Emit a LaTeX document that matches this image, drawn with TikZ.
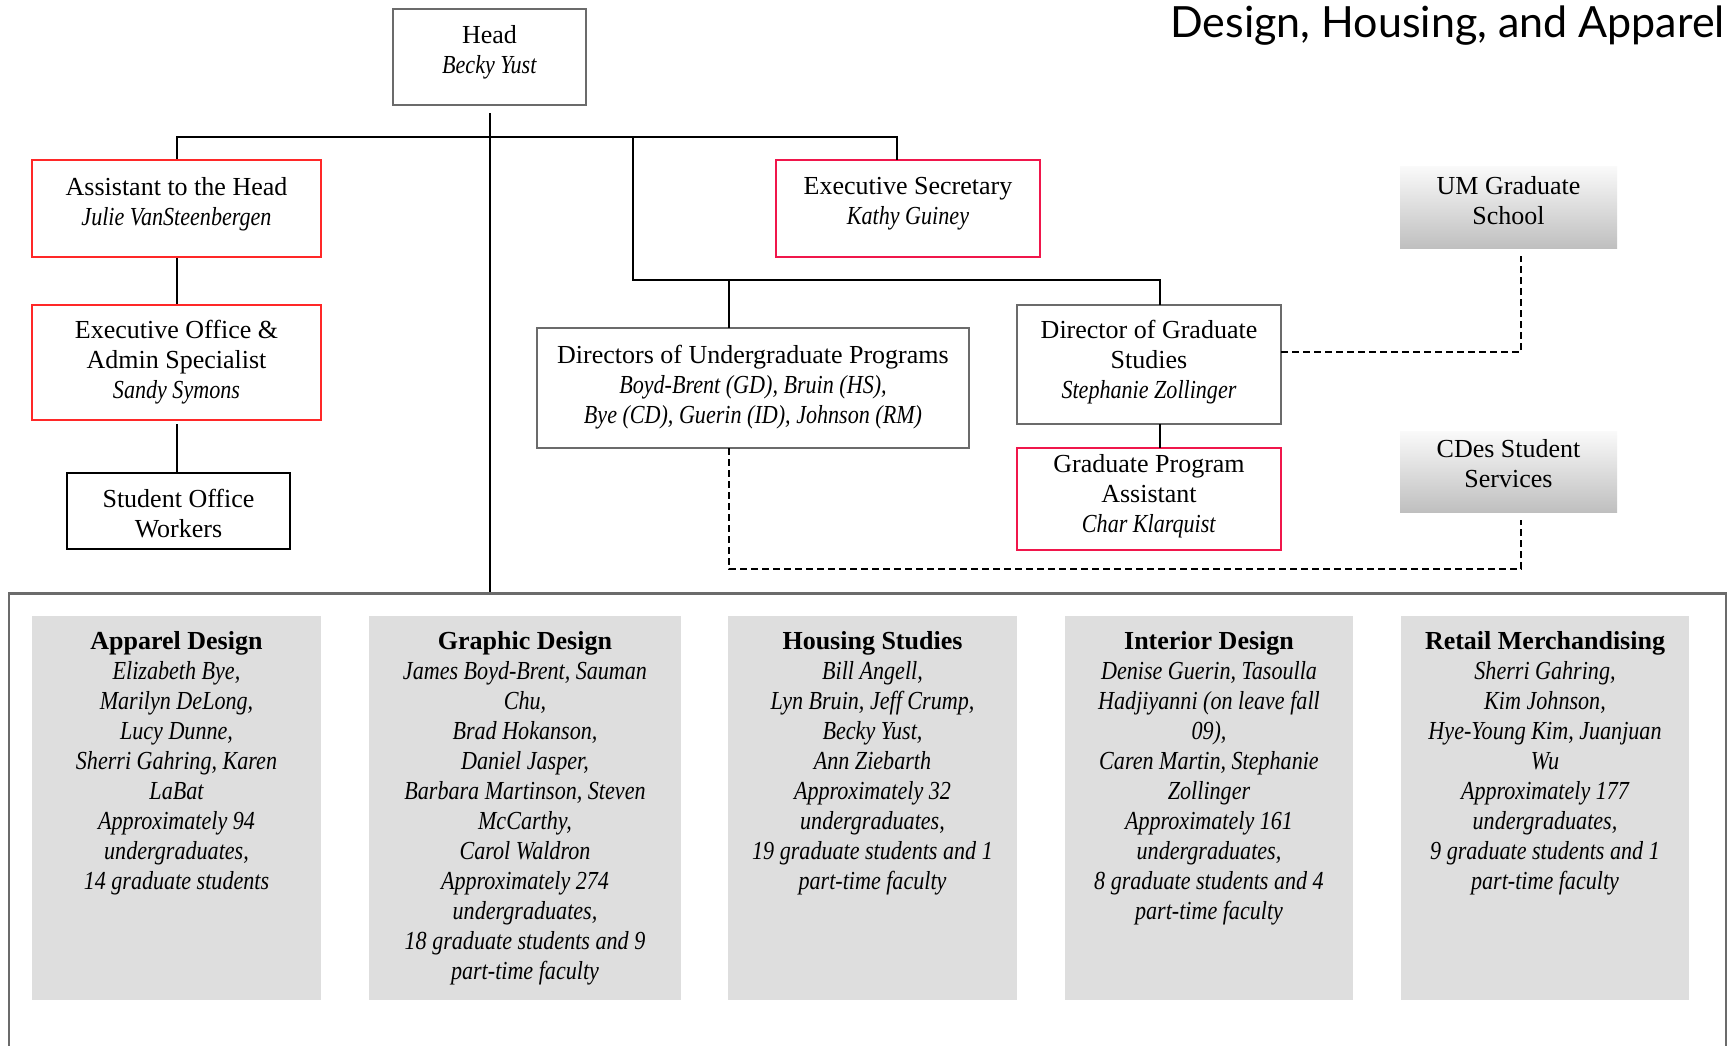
\documentclass[tikz,border=0pt]{standalone}
\usepackage{fontspec}
\setmainfont{Liberation Serif}[ItalicFeatures={FakeStretch=0.85}]
\newfontfamily\titlefont{Lato}
\newcommand\orgfont{\fontsize{26}{30}\selectfont}
\definecolor{redA}{RGB}{255,40,40}
\definecolor{redB}{RGB}{240,22,75}
\definecolor{boxgray}{RGB}{107,107,107}
\definecolor{deptfill}{RGB}{222,222,222}
\begin{document}
\begin{tikzpicture}[x=1pt,y=-1pt,
  box/.style={draw, line width=2.5pt, inner sep=0pt},
  graybox/.style={box, draw=boxgray},
  blackbox/.style={box, draw=black},
  redbox/.style={box, draw=redA},
  crimsonbox/.style={box, draw=redB},
  gradbox/.style={inner sep=0pt, top color=black!2, bottom color=black!25, draw=none},
  boxtext/.style={inner sep=0pt, align=center, font=\orgfont},
  deptbox/.style={fill=deptfill, draw=none, inner sep=0pt, minimum height=384pt},
  depttext/.style={anchor=north, inner sep=0pt, align=center, font=\orgfont},
  conn/.style={line width=2pt, black},
  dconn/.style={line width=2pt, black, dash pattern=on 7pt off 4pt}]
\useasboundingbox (0,0) rectangle (1731,1046);
\fill[white] (0,0) rectangle (1731,1046);

% title
\node[anchor=base east, inner sep=0pt, font=\titlefont\fontsize{43}{48}\selectfont] (title) at (1725,38) {Design, Housing, and Apparel};

% boxes
\node[graybox, minimum width=193pt, minimum height=96pt] (head) at (489.5,57) {};
\node[boxtext] (headt) at ([yshift=4.5pt]head.center) {Head\\\textit{Becky Yust}};
\node[redbox, minimum width=289pt, minimum height=97pt] (asst) at (176.5,208.5) {};
\node[boxtext] (asstt) at ([yshift=4.5pt]asst.center) {Assistant to the Head\\\textit{Julie VanSteenbergen}};
\node[redbox, minimum width=289pt, minimum height=115pt] (execoff) at (176.5,362.5) {};
\node[boxtext] (execofft) at (execoff.center) {Executive Office \&\\Admin Specialist\\\textit{Sandy Symons}};
\node[blackbox, minimum width=223pt, minimum height=76pt] (student) at (178.5,511) {};
\node[boxtext] (studentt) at ([yshift=-2.2pt]student.center) {Student Office\\Workers};
\node[crimsonbox, minimum width=264pt, minimum height=97pt] (execsec) at (908,208.5) {};
\node[boxtext] (execsect) at ([yshift=4.5pt]execsec.center) {Executive Secretary\\\textit{Kathy Guiney}};
\node[graybox, minimum width=432pt, minimum height=120pt] (ug) at (753,388) {};
\node[boxtext] (ugt) at ([yshift=1.1pt]ug.center) {Directors of Undergraduate Programs\\\textit{Boyd-Brent (GD), Bruin (HS),}\\\textit{Bye (CD), Guerin (ID), Johnson (RM)}};
\node[graybox, minimum width=264pt, minimum height=119pt] (dgs) at (1149,364.5) {};
\node[boxtext] (dgst) at ([yshift=2.2pt]dgs.center) {Director of Graduate\\Studies\\\textit{Stephanie Zollinger}};
\node[crimsonbox, minimum width=264pt, minimum height=102pt] (gpa) at (1149,499) {};
\node[boxtext] (gpat) at ([yshift=2.8pt]gpa.center) {Graduate Program\\Assistant\\\textit{Char Klarquist}};
\node[gradbox, minimum width=217pt, minimum height=82pt] (um) at (1508.5,207) {};
\node[boxtext] (umt) at ([yshift=6pt]um.center) {UM Graduate\\School};
\node[gradbox, minimum width=217pt, minimum height=81pt] (cdes) at (1508.5,471.5) {};
\node[boxtext] (cdest) at ([yshift=7.5pt]cdes.center) {CDes Student\\Services};

% frame
\node[draw=boxgray, line width=2.5pt, minimum width=1717pt, minimum height=500pt, anchor=north, inner sep=0pt] (frame) at (867.5,592) {};

% department boxes
\node[deptbox, minimum width=289pt] (app) at (176.5,808) {};
\node[deptbox, minimum width=312pt] (gra) at (525,808) {};
\node[deptbox, minimum width=289pt] (hou) at (872.5,808) {};
\node[deptbox, minimum width=288pt] (int) at (1209,808) {};
\node[deptbox, minimum width=288pt] (ret) at (1545,808) {};

\node[depttext] (appt) at (176.5,631) {\textbf{Apparel Design}\\\itshape Elizabeth Bye,\\\itshape Marilyn DeLong,\\\itshape Lucy Dunne,\\\itshape Sherri Gahring, Karen\\\itshape LaBat\\\itshape Approximately 94\\\itshape undergraduates,\\\itshape 14 graduate students};
\node[depttext] (grat) at (525,631) {\textbf{Graphic Design}\\\itshape James Boyd-Brent, Sauman\\\itshape Chu,\\\itshape Brad Hokanson,\\\itshape Daniel Jasper,\\\itshape Barbara Martinson, Steven\\\itshape McCarthy,\\\itshape Carol Waldron\\\itshape Approximately 274\\\itshape undergraduates,\\\itshape 18 graduate students and 9\\\itshape part-time faculty};
\node[depttext] (hout) at (872.5,631) {\textbf{Housing Studies}\\\itshape Bill Angell,\\\itshape Lyn Bruin, Jeff Crump,\\\itshape Becky Yust,\\\itshape Ann Ziebarth\\\itshape Approximately 32\\\itshape undergraduates,\\\itshape 19 graduate students and 1\\\itshape part-time faculty};
\node[depttext] (intt) at (1209,631) {\textbf{Interior Design}\\\itshape Denise Guerin, Tasoulla\\\itshape Hadjiyanni (on leave fall\\\itshape 09),\\\itshape Caren Martin, Stephanie\\\itshape Zollinger\\\itshape Approximately 161\\\itshape undergraduates,\\\itshape 8 graduate students and 4\\\itshape part-time faculty};
\node[depttext] (rett) at (1545,631) {\textbf{Retail Merchandising}\\\itshape Sherri Gahring,\\\itshape Kim Johnson,\\\itshape Hye-Young Kim, Juanjuan\\\itshape Wu\\\itshape Approximately 177\\\itshape undergraduates,\\\itshape 9 graduate students and 1\\\itshape part-time faculty};

% helper coordinates
\coordinate (bar) at (489.5,137);
\coordinate (split) at (633,137);
\coordinate (mid) at (633,280);
\coordinate (ugtop) at (729,328);
\coordinate (ugbot) at (729,448);
\coordinate (dgstop) at (1160,305);
\coordinate (dgsbot) at (1160,424);
\coordinate (gpatop) at (1160,448);
\coordinate (secttop) at (897,160);
\coordinate (dgsright) at (1281,352);
\coordinate (umbelow) at (1521,256);
\coordinate (cdesbelow) at (1521,520);
\coordinate (dashlow) at (729,569);

% connectors
\draw[conn] ([yshift=-7pt]head.south) -- (head.south |- frame.north);
\draw[conn] (asst.north) |- (secttop |- bar) -- (secttop);
\draw[conn] (split) -- (mid) -| (ugtop);
\draw[conn] (mid) -| (dgstop);
\draw[conn] (asst.south) -- (execoff.north);
\draw[conn] ([yshift=-3pt]execoff.south) -- (execoff.south |- student.north);
\draw[conn] (dgsbot) -- (gpatop);
\draw[dconn] (dgsright) -| (umbelow);
\draw[dconn] (ugbot) -- (dashlow) -| (cdesbelow);
\end{tikzpicture}
\end{document}
